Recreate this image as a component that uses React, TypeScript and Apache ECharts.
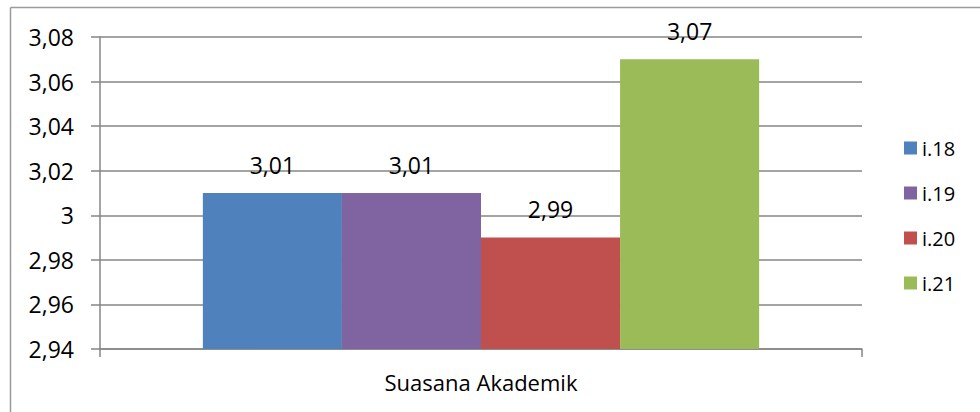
import React, { useEffect, useRef } from "react";
import * as echarts from "echarts";

const categories = ["Suasana Akademik"];
const seriesNames = ["i.18", "i.19", "i.20", "i.21"];
const seriesValues = [[3.01], [3.01], [2.99], [3.07]];
const seriesColors = ["#4F81BD", "#8064A2", "#C0504D", "#9BBB59"];
const yMin = 2.94;
const yMax = 3.08;
const yInterval = 0.02;

const FONT = "'Open Sans', 'Noto Sans', sans-serif";
const fmt = (v: number) => String(Number(v.toFixed(2))).replace(".", ",");

export default function App() {
  const ref = useRef<HTMLDivElement>(null);
  useEffect(() => {
    if (!ref.current) return;
    const chart = echarts.init(ref.current, undefined, { renderer: "svg" });
    chart.setOption({
      animation: false,
      backgroundColor: "#ffffff",
      textStyle: { fontFamily: FONT },
      grid: { left: 100, top: 37, right: 118, bottom: 63, containLabel: false },
      legend: {
        orient: "vertical",
        left: 899,
        top: 133,
        padding: 5,
        itemWidth: 13,
        itemHeight: 13,
        itemGap: 25,
        icon: "rect",
        textStyle: { fontFamily: FONT, fontSize: 20, color: "#000", lineHeight: 20 },
        data: seriesNames,
      },
      graphic: [
        { type: "line", shape: { x1: 10.5, y1: 7.5, x2: 10.5, y2: 420 }, style: { stroke: "#9a9a9a", lineWidth: 1.5 } },
        { type: "line", shape: { x1: 10.5, y1: 7.5, x2: 990, y2: 7.5 }, style: { stroke: "#9a9a9a", lineWidth: 1.5 } },
      ],
      xAxis: {
        type: "category",
        data: categories,
        axisLine: { lineStyle: { color: "#868686", width: 1.5 } },
        axisTick: { show: true, length: 8, lineStyle: { color: "#868686", width: 1.5 } },
        axisLabel: { fontFamily: FONT, fontSize: 22, color: "#000", margin: 22 },
      },
      yAxis: {
        type: "value",
        min: yMin,
        max: yMax,
        interval: yInterval,
        axisLine: { show: true, lineStyle: { color: "#868686", width: 1.5 } },
        axisTick: { show: true, length: 9, lineStyle: { color: "#868686", width: 1.5 } },
        splitLine: { lineStyle: { color: "#868686", width: 1.5 } },
        axisLabel: { fontFamily: FONT, fontSize: 23, color: "#000", margin: 26, formatter: fmt },
      },
      series: seriesNames.map((name, i) => ({
        name,
        type: "bar",
        data: seriesValues[i],
        barGap: "0%",
        barCategoryGap: "27%",
        itemStyle: { color: seriesColors[i] },
        label: {
          show: true,
          position: "top",
          distance: 17,
          fontFamily: FONT,
          fontSize: 23,
          color: "#000",
          formatter: (p: any) => fmt(p.value),
        },
      })),
    });
    return () => chart.dispose();
  }, []);
  return <div ref={ref} style={{ position: "fixed", left: 0, top: 0, width: 980, height: 412 }} />;
}
